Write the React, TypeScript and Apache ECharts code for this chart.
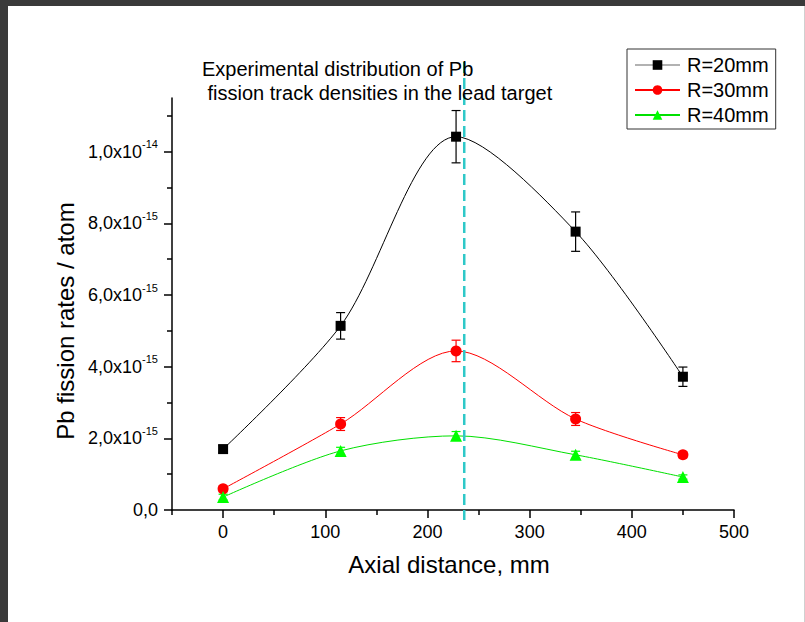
import React, { useEffect, useRef } from 'react';
import * as echarts from 'echarts';

// ---- data ----
const X_POS = [0, 115, 228, 345, 450];
const SERIES_NAMES = ['R=20mm', 'R=30mm', 'R=40mm'];
const R20 = [1.70e-15, 5.14e-15, 10.42e-15, 7.77e-15, 3.72e-15];
const R20_ERR = [0.1e-15, 0.37e-15, 0.73e-15, 0.55e-15, 0.27e-15];
const R30 = [0.59e-15, 2.40e-15, 4.44e-15, 2.54e-15, 1.54e-15];
const R30_ERR = [0.08e-15, 0.18e-15, 0.3e-15, 0.18e-15, 0.08e-15];
const R40 = [0.36e-15, 1.65e-15, 2.07e-15, 1.54e-15, 0.92e-15];
const R40_ERR = [0.08e-15, 0.1e-15, 0.12e-15, 0.1e-15, 0.06e-15];
const X_MAJOR = [0, 100, 200, 300, 400, 500];
const X_MINOR = [-50, 50, 150, 250, 350, 450];
const Y_MAJOR = [0, 2e-15, 4e-15, 6e-15, 8e-15, 1e-14];
const Y_MINOR = [1e-15, 3e-15, 5e-15, 7e-15, 9e-15, 1.1e-14];
const PEAK_X = [236];
const TITLE = 'Experimental distribution of Pb\n fission track densities in the lead target';
const X_NAME = 'Axial distance, mm';
const Y_NAME = 'Pb fission rates / atom';

const FF = "'Liberation Sans', Arial, Helvetica, sans-serif";

function errRender(color: string) {
  return (params: any, api: any) => {
    const x = api.value(0);
    const a = api.coord([x, api.value(1)]);
    const b = api.coord([x, api.value(2)]);
    const w = 4.5;
    const style = { stroke: color, lineWidth: 1.2 };
    return {
      type: 'group',
      children: [
        { type: 'line', shape: { x1: a[0], y1: a[1], x2: b[0], y2: b[1] }, style },
        { type: 'line', shape: { x1: a[0] - w, y1: a[1], x2: a[0] + w, y2: a[1] }, style },
        { type: 'line', shape: { x1: b[0] - w, y1: b[1], x2: b[0] + w, y2: b[1] }, style },
      ],
    };
  };
}

function errData(vals: number[], errs: number[]) {
  return X_POS.map((x, i) => [x, vals[i] - errs[i], vals[i] + errs[i]]);
}

export default function App() {
  const ref = useRef<HTMLDivElement>(null);
  useEffect(() => {
    if (!ref.current) return;
    const chart = echarts.init(ref.current, undefined, { renderer: 'svg' });
    const colors = ['#000000', '#ff0000', '#00ff00'];
    const lineColors = ['#000000', '#ff0000', '#00e000'];
    const symbols = ['rect', 'circle', 'triangle'];
    const sizes = [10, 11, 12];
    const vals = [R20, R30, R40];
    const errs = [R20_ERR, R30_ERR, R40_ERR];

    const lineSeries = SERIES_NAMES.map((name, k) => ({
      name,
      type: 'line',
      data: X_POS.map((x, i) => [x, vals[k][i]]),
      smooth: 0.3,
      symbol: symbols[k],
      symbolSize: sizes[k],
      itemStyle: { color: colors[k] },
      lineStyle: { color: lineColors[k], width: 1 },
      z: 4,
    }));
    const errSeries = SERIES_NAMES.map((name, k) => ({
      name: name + ' err',
      type: 'custom',
      renderItem: errRender(colors[k]),
      data: errData(vals[k], errs[k]),
      encode: { x: 0, y: [1, 2] },
      z: 3,
    }));
    const axisLineStyle = { color: '#000', width: 1.5 };

    chart.setOption({
      animation: false,
      backgroundColor: '#ffffff',
      title: {
        text: TITLE,
        left: 202,
        top: 57,
        padding: 0,
        textStyle: { fontSize: 20, fontWeight: 'normal', fontFamily: FF, color: '#000', lineHeight: 24 },
      },
      legend: {
        orient: 'vertical',
        left: 627,
        top: 49,
        padding: [6, 7, 4, 7],
        itemGap: 5,
        itemWidth: 45,
        itemHeight: 12,
        borderColor: '#333',
        borderWidth: 1,
        backgroundColor: '#fff',
        selectedMode: false,
        textStyle: { fontSize: 20, fontFamily: FF, color: '#000', padding: [0, 0, 0, 2] },
        data: [
          { name: SERIES_NAMES[0], lineStyle: { color: '#666', width: 1.2 } },
          { name: SERIES_NAMES[1] },
          { name: SERIES_NAMES[2] },
        ],
      },
      grid: { left: 172, right: 71, top: 98, bottom: 112 },
      xAxis: [
        {
          type: 'value',
          min: -50,
          max: 500,
          name: X_NAME,
          nameLocation: 'middle',
          nameGap: 42,
          nameTextStyle: { fontSize: 24, fontFamily: FF, color: '#000', padding: [0, 8, 0, 0] },
          axisLine: { show: true, onZero: false, lineStyle: axisLineStyle },
          axisTick: { show: true, length: 8, customValues: X_MAJOR, lineStyle: axisLineStyle },
          axisLabel: { customValues: X_MAJOR, fontSize: 18, fontFamily: FF, color: '#000', margin: 13 },
          splitLine: { show: false },
        },
        {
          type: 'value',
          min: -50,
          max: 500,
          position: 'bottom',
          axisLine: { show: false, onZero: false },
          axisTick: { show: true, length: 5, customValues: X_MINOR, lineStyle: axisLineStyle },
          axisLabel: { show: false },
          splitLine: { show: false },
        },
      ],
      yAxis: [
        {
          type: 'value',
          min: 0,
          max: 1.15e-14,
          name: Y_NAME,
          nameLocation: 'middle',
          nameGap: 93,
          nameTextStyle: { fontSize: 24, fontFamily: FF, color: '#000', padding: [0, 34, 0, 0] },
          axisLine: { show: true, onZero: false, lineStyle: axisLineStyle },
          axisTick: { show: true, length: 8, customValues: Y_MAJOR, lineStyle: axisLineStyle },
          axisLabel: {
            customValues: Y_MAJOR,
            fontSize: 18,
            fontFamily: FF,
            color: '#000',
            margin: 14,
            formatter: (v: number) => {
              if (v === 0) return '{a|0,0}';
              const e = Math.floor(Math.log10(v) + 1e-9);
              const m = v / Math.pow(10, e);
              return `{a|${m.toFixed(1).replace('.', ',')}x10}{b|${e}}`;
            },
            rich: {
              a: { fontSize: 18, fontFamily: FF, color: '#000', lineHeight: 26 },
              b: { fontSize: 11, fontFamily: FF, color: '#000', lineHeight: 11, verticalAlign: 'top' },
            },
          },
          splitLine: { show: false },
        },
        {
          type: 'value',
          min: 0,
          max: 1.15e-14,
          position: 'left',
          axisLine: { show: false, onZero: false },
          axisTick: { show: true, length: 5, customValues: Y_MINOR, lineStyle: axisLineStyle },
          axisLabel: { show: false },
          splitLine: { show: false },
        },
      ],
      graphic: [
        { type: 'rect', shape: { x: 0, y: 0, width: 805, height: 6 }, style: { fill: '#3a3a3a' }, silent: true },
        { type: 'rect', shape: { x: 0, y: 0, width: 8, height: 622 }, style: { fill: '#3a3a3a' }, silent: true },
        { type: 'rect', shape: { x: 804, y: 6, width: 1, height: 616 }, style: { fill: '#d0d0d0' }, silent: true },
      ],
      series: [
        ...errSeries,
        ...lineSeries,
        {
          name: 'peak',
          type: 'custom',
          clip: false,
          data: PEAK_X.map((x) => [x, 0]),
          encode: { x: 0, y: 1 },
          renderItem: (params: any, api: any) => {
            const p = api.coord([api.value(0), 0]);
            return {
              type: 'line',
              shape: { x1: p[0], y1: 62, x2: p[0], y2: p[1] + 10 },
              style: { stroke: '#2ec8c8', lineWidth: 2.5, lineDash: [11, 5] },
            };
          },
          z: 6,
        },
      ],
    });
    return () => chart.dispose();
  }, []);
  return <div ref={ref} style={{ position: 'fixed', left: 0, top: 0, width: 805, height: 622 }} />;
}
